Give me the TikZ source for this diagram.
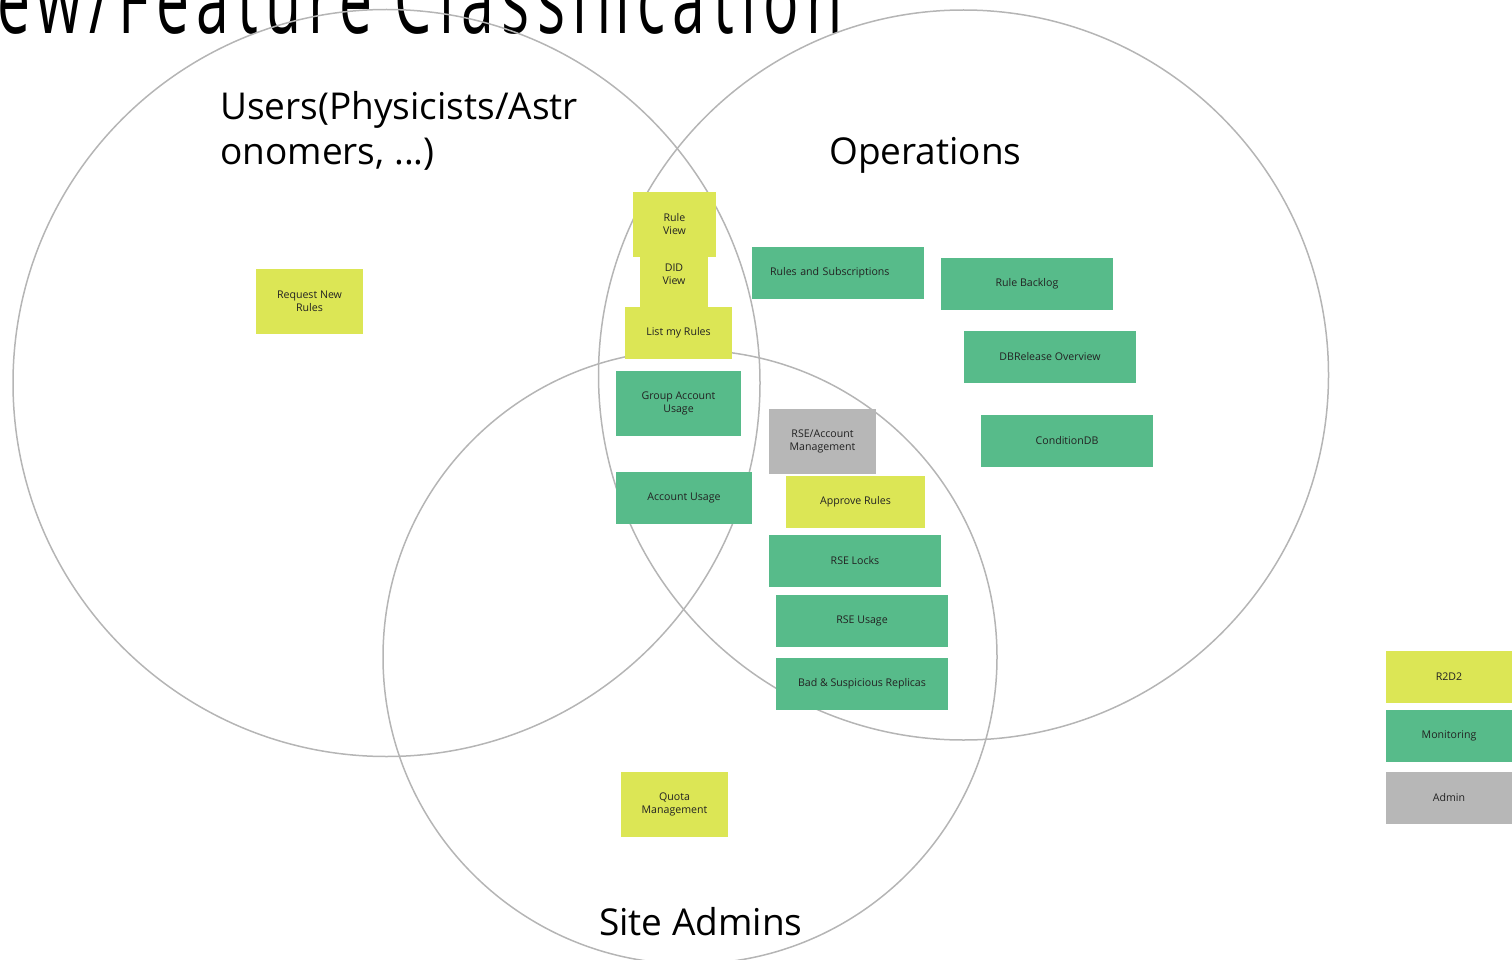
\documentclass[tikz,border=0pt]{standalone}
\usepackage{fontspec}
\setmainfont{Open Sans}
\newfontfamily\titlefont[FakeStretch=0.62, LetterSpace=7.8]{Open Sans}
\definecolor{noteyellow}{HTML}{DCE655}
\definecolor{notegreen}{HTML}{57BB8A}
\definecolor{notegrey}{HTML}{B7B7B7}
\definecolor{vennline}{HTML}{B5B5B5}
\definecolor{notetext}{HTML}{222222}
\begin{document}
\begin{tikzpicture}[x=1pt, y=-1pt,
  venn/.style={draw=vennline, line width=1.5pt},
  note/.style={rectangle, inner sep=0pt, align=center, text=notetext, font=\fontsize{10.6}{13}\selectfont},
  user note/.style={note, fill=noteyellow},
  ops note/.style={note, fill=notegreen},
  admin note/.style={note, fill=notegrey},
  group label/.style={anchor=base west, align=left, inner sep=0pt, font=\fontsize{37}{45}\selectfont}]
\useasboundingbox (0,0) rectangle (1512,960);
\clip (0,0) rectangle (1512,960);
\node [anchor=base east, inner sep=0pt, font=\titlefont\fontsize{95}{95}\selectfont] (title) at (843,34) {ew/Feature Classification};
% the three groups
\draw [venn] (386.5,383) circle [radius=373.5];
\draw [venn] (963.5,375) circle [radius=365];
\draw [venn] (690,657) circle [radius=307];
\begin{scope}[group label]
\node (users) at (220,165) {Users(Physicists/Astr\\onomers, ...)};
\node (ops) at (829,165) {Operations};
\node (site) at (599,935) {Site Admins};
\end{scope}
% features
\node [user note, minimum width=68, minimum height=65] (didview) at (674,274.5) {DID\\View};
\node [user note, minimum width=83, minimum height=65] (ruleview) at (674.5,224.5) {Rule\\View};
\node [user note, minimum width=107, minimum height=52] (listrules) at (678.5,333) {List my Rules};
\node [ops note, minimum width=125, minimum height=65] (groupusage) at (678.5,403.5) {Group Account\\Usage};
\node [ops note, minimum width=136, minimum height=52] (accusage) at (684,498) {Account Usage};
\node [user note, minimum width=107, minimum height=65] (request) at (309.5,301.5) {Request New\\Rules};
\node [user note, minimum width=107, minimum height=65] (quota) at (674.5,804.5) {Quota\\Management};
\node [admin note, minimum width=107, minimum height=65] (rseacc) at (822.5,441.5) {RSE/Account\\Management};
\node [user note, minimum width=139, minimum height=52] (approve) at (855.5,502) {Approve Rules};
\begin{scope}[every node/.style={ops note, minimum width=172, minimum height=52}]
\node [text width=136, align=left] (rulesubs) at (838,273) {Rules and Subscriptions};
\node (locks) at (855,561) {RSE Locks};
\node (rseusage) at (862,621) {RSE Usage};
\node (badrep) at (862,684) {Bad \& Suspicious Replicas};
\node (backlog) at (1027,284) {Rule Backlog};
\node (dbrelease) at (1050,357) {DBRelease Overview};
\node (conddb) at (1067,441) {ConditionDB};
\end{scope}
% legend
\begin{scope}[every node/.style={minimum width=126, minimum height=52}]
\node [user note] (leg1) at (1449,677) {R2D2};
\node [ops note] (leg2) at (1449,736) {Monitoring};
\node [admin note] (leg3) at (1449,798) {Admin};
\end{scope}
\end{tikzpicture}
\end{document}
